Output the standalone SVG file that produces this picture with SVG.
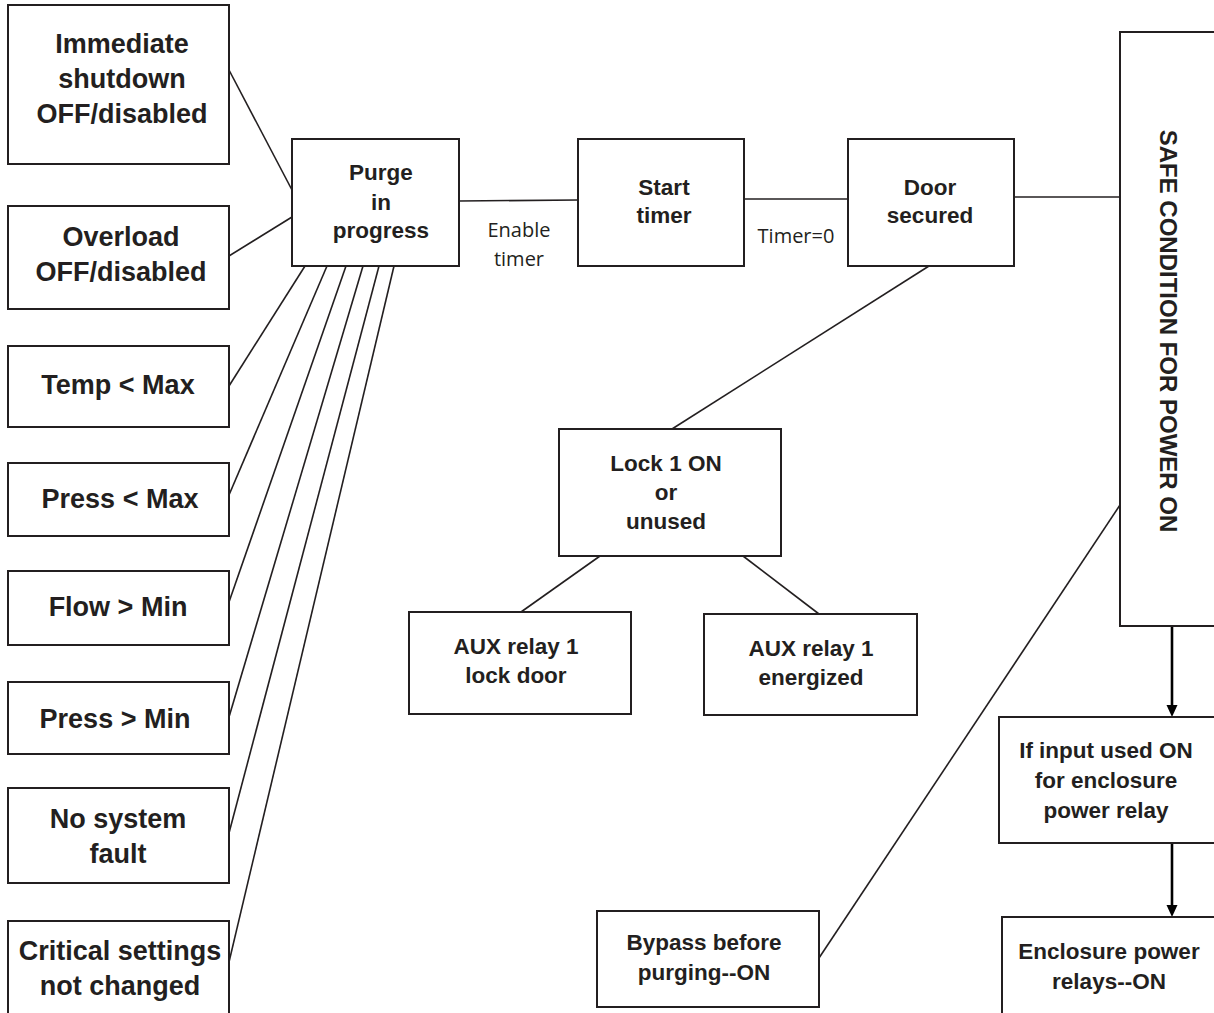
<svg xmlns="http://www.w3.org/2000/svg" width="1214" height="1013" viewBox="0 0 1214 1013">
<style>
.box{fill:#fff;stroke:#231f20;stroke-width:2}
.t{font-family:"Liberation Sans",Arial,sans-serif;font-weight:bold;fill:#231f20;text-anchor:middle}
.big{font-size:27px}
.mid{font-size:22.5px}
.lbl{font-family:"Open Sans","Noto Sans",sans-serif;font-size:20px;fill:#231f20;text-anchor:middle}
.ln{stroke:#231f20;stroke-width:1.6;fill:none}
.arr{stroke:#000;stroke-width:2.6;fill:none}
</style>
<defs>
<marker id="ah" markerWidth="10" markerHeight="10" refX="5" refY="9" orient="auto" markerUnits="userSpaceOnUse" viewBox="0 0 10 10">
<path d="M0,0 L10,0 L5,10 Z" fill="#000" transform="rotate(-90 5 5)"/>
</marker>
</defs>
<rect width="1214" height="1013" fill="#fff"/>
<g id="connectors">
<line class="ln" x1="229" y1="70" x2="292" y2="190"/>
<line class="ln" x1="229" y1="256" x2="292" y2="217"/>
<line class="ln" x1="305" y1="266" x2="229" y2="386"/>
<line class="ln" x1="327" y1="266" x2="229" y2="495"/>
<line class="ln" x1="346" y1="266" x2="229" y2="602"/>
<line class="ln" x1="363" y1="266" x2="229" y2="717"/>
<line class="ln" x1="379" y1="266" x2="229" y2="833"/>
<line class="ln" x1="394" y1="266" x2="229" y2="962"/>
<line class="ln" x1="459" y1="201" x2="578" y2="200"/>
<line class="ln" x1="744" y1="199" x2="848" y2="199"/>
<line class="ln" x1="1014" y1="197" x2="1120" y2="197"/>
<line class="ln" x1="929" y1="266" x2="672" y2="429"/>
<line class="ln" x1="600" y1="556" x2="521" y2="612"/>
<line class="ln" x1="743" y1="556" x2="819" y2="614"/>
<line class="ln" x1="819" y1="958" x2="1120" y2="505"/>
<line class="arr" x1="1172" y1="626" x2="1172" y2="706"/>
<path d="M1166.5,705 L1177.5,705 L1172,717 Z" fill="#000"/>
<line class="arr" x1="1172" y1="843" x2="1172" y2="906"/>
<path d="M1166.5,905 L1177.5,905 L1172,917 Z" fill="#000"/>
</g>
<g id="n-immediate"><rect class="box" x="8" y="5" width="221" height="159"/>
<text class="t big" x="122"><tspan x="122" y="53">Immediate</tspan><tspan x="122" y="88">shutdown</tspan><tspan x="122" y="123">OFF/disabled</tspan></text></g>
<g id="n-overload"><rect class="box" x="8" y="206" width="221" height="103"/>
<text class="t big" x="121"><tspan x="121" y="246">Overload</tspan><tspan x="121" y="281">OFF/disabled</tspan></text></g>
<g id="n-temp"><rect class="box" x="8" y="346" width="221" height="81"/>
<text class="t big" x="118" y="394">Temp &lt; Max</text></g>
<g id="n-pressmax"><rect class="box" x="8" y="463" width="221" height="73"/>
<text class="t big" x="120" y="508">Press &lt; Max</text></g>
<g id="n-flow"><rect class="box" x="8" y="571" width="221" height="74"/>
<text class="t big" x="118" y="616">Flow &gt; Min</text></g>
<g id="n-pressmin"><rect class="box" x="8" y="682" width="221" height="72"/>
<text class="t big" x="115" y="728">Press &gt; Min</text></g>
<g id="n-fault"><rect class="box" x="8" y="788" width="221" height="95"/>
<text class="t big" x="118"><tspan x="118" y="828">No system</tspan><tspan x="118" y="863">fault</tspan></text></g>
<g id="n-critical"><rect class="box" x="8" y="921" width="221" height="100"/>
<text class="t big" x="120"><tspan x="120" y="960">Critical settings</tspan><tspan x="120" y="995">not changed</tspan></text></g>
<g id="n-purge"><rect class="box" x="292" y="139" width="167" height="127"/>
<text class="t mid" x="381"><tspan x="381" y="180">Purge</tspan><tspan x="381" y="210">in</tspan><tspan x="381" y="238">progress</tspan></text></g>
<g id="n-start"><rect class="box" x="578" y="139" width="166" height="127"/>
<text class="t mid" x="664"><tspan x="664" y="195">Start</tspan><tspan x="664" y="223">timer</tspan></text></g>
<g id="n-door"><rect class="box" x="848" y="139" width="166" height="127"/>
<text class="t mid" x="930"><tspan x="930" y="195">Door</tspan><tspan x="930" y="223">secured</tspan></text></g>
<text class="lbl" x="519"><tspan x="519" y="237">Enable</tspan><tspan x="519" y="266">timer</tspan></text>
<text class="lbl" x="796" y="243">Timer=0</text>
<g id="n-safe"><rect class="box" x="1120" y="32" width="110" height="594"/>
<text class="t" font-size="24" transform="translate(1160,331) rotate(90)" x="0" y="0">SAFE CONDITION FOR POWER ON</text></g>
<g id="n-lock"><rect class="box" x="559" y="429" width="222" height="127"/>
<text class="t mid" x="666"><tspan x="666" y="471">Lock 1 ON</tspan><tspan x="666" y="500">or</tspan><tspan x="666" y="529">unused</tspan></text></g>
<g id="n-auxlock"><rect class="box" x="409" y="612" width="222" height="102"/>
<text class="t mid" x="516"><tspan x="516" y="654">AUX relay 1</tspan><tspan x="516" y="683">lock door</tspan></text></g>
<g id="n-auxen"><rect class="box" x="704" y="614" width="213" height="101"/>
<text class="t mid" x="811"><tspan x="811" y="656">AUX relay 1</tspan><tspan x="811" y="685">energized</tspan></text></g>
<g id="n-bypass"><rect class="box" x="597" y="911" width="222" height="96"/>
<text class="t mid" x="704"><tspan x="704" y="950">Bypass before</tspan><tspan x="704" y="980">purging--ON</tspan></text></g>
<g id="n-input"><rect class="box" x="999" y="717" width="230" height="126"/>
<text class="t mid" x="1106"><tspan x="1106" y="758">If input used ON</tspan><tspan x="1106" y="788">for enclosure</tspan><tspan x="1106" y="818">power relay</tspan></text></g>
<g id="n-enclosure"><rect class="box" x="1002" y="917" width="230" height="110"/>
<text class="t mid" x="1109"><tspan x="1109" y="959">Enclosure power</tspan><tspan x="1109" y="989">relays--ON</tspan></text></g>
</svg>
